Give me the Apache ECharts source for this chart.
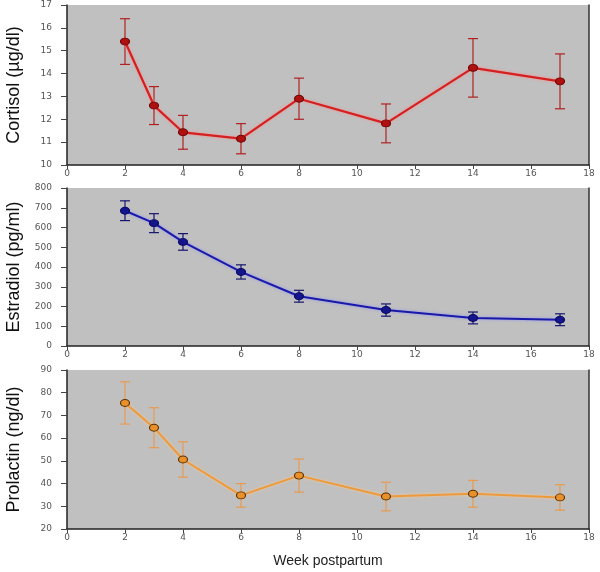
<!DOCTYPE html>
<html><head><meta charset="utf-8">
<script src="https://cdn.jsdelivr.net/npm/echarts@6/dist/echarts.min.js"></script>
<style>html,body{margin:0;padding:0;background:#fff}#c{width:600px;height:572px}</style>
</head><body><div id="c"></div>
<script>
const weeks = [2, 3, 4, 6, 8, 11, 14, 17];
const cortisol = [15.4, 12.6, 11.43, 11.15, 12.9, 11.82, 14.25, 13.66];
const cortisolErr = [1.0, 0.83, 0.74, 0.66, 0.9, 0.85, 1.28, 1.2];
const estradiol = [685, 622, 527, 375, 252, 182, 142, 133];
const estradiolErr = [50, 48, 42, 36, 30, 31, 30, 30];
const prolactin = [75.5, 64.6, 50.6, 34.8, 43.5, 34.3, 35.5, 33.9];
const prolactinErr = [9.3, 8.8, 7.8, 5.2, 7.3, 6.3, 5.9, 5.6];
const yTitles = ['Cortisol (µg/dl)', 'Estradiol (pg/ml)', 'Prolactin (ng/dl)'];
const xTitle = 'Week postpartum';
const yRanges = [[10, 17, 1], [0, 800, 100], [20, 90, 10]];

const panels = [
  {vals: cortisol, err: cortisolErr, line: '#d42020', marker: '#b01010', border: '#6a0808', errc: '#b02020', halo: 'rgba(255,140,140,0.9)', width: 2.2},
  {vals: estradiol, err: estradiolErr, line: '#1a1aa8', marker: '#14148c', border: '#0a0a60', errc: '#15156e', halo: 'rgba(140,140,255,0.9)', width: 2},
  {vals: prolactin, err: prolactinErr, line: '#ec9a3c', marker: '#e8902a', border: '#5a3000', errc: '#e89a50', halo: 'rgba(255,200,140,0.9)', width: 2}
];
const grids = [
  {left: 67, width: 522, top: 5, height: 160},
  {left: 67, width: 522, top: 188, height: 158},
  {left: 67, width: 522, top: 370, height: 159}
];
const tickFont = {fontFamily: 'DejaVu Sans', fontSize: 9, color: '#555'};

const option = {
  animation: false,
  grid: grids.map(g => Object.assign({show: true, backgroundColor: '#c0c0c0', borderWidth: 0, containLabel: false, outerBoundsMode: 'none'}, g)),
  xAxis: [], yAxis: [], series: [],
  graphic: []
};
panels.forEach((p, i) => {
  option.xAxis.push({
    type: 'value', gridIndex: i, min: 0, max: 18, interval: 2,
    axisLine: {show: true, lineStyle: {color: '#222', width: 1.5}},
    axisTick: {show: true, length: 4, lineStyle: {color: '#444'}},
    axisLabel: Object.assign({margin: 4}, tickFont),
    splitLine: {show: false},
    name: i === 2 ? xTitle : '', nameLocation: 'middle', nameGap: 25,
    nameTextStyle: {fontFamily: 'Liberation Sans', fontSize: 14, color: '#222'}
  });
  option.yAxis.push({
    type: 'value', gridIndex: i, min: yRanges[i][0], max: yRanges[i][1], interval: yRanges[i][2],
    axisLine: {show: true, lineStyle: {color: '#222', width: 1.5}},
    axisTick: {show: true, length: 6, lineStyle: {color: '#444'}},
    axisLabel: Object.assign({margin: 15}, tickFont),
    splitLine: {show: false},
    name: yTitles[i], nameLocation: 'middle', nameGap: 44,
    nameTextStyle: {fontFamily: 'Liberation Sans', fontSize: 18, color: '#111'}
  });
  option.yAxis.push({
    type: 'value', gridIndex: i, position: 'right', min: yRanges[i][0], max: yRanges[i][1], interval: yRanges[i][2],
    axisLine: {show: true, lineStyle: {color: '#333', width: 1.5}},
    axisTick: {show: false}, axisLabel: {show: false}, splitLine: {show: false}
  });
  const pts = weeks.map((w, k) => [w, p.vals[k], p.err[k]]);
  option.series.push({
    type: 'custom', xAxisIndex: i, yAxisIndex: i * 2, data: pts, z: 3,
    renderItem: function (params, api) {
      const x = api.value(0), y = api.value(1), e = api.value(2);
      const top = api.coord([x, y + e]);
      const bot = api.coord([x, y - e]);
      const hw = 5;
      const st = {stroke: p.errc, lineWidth: 1.2};
      return {type: 'group', children: [
        {type: 'line', shape: {x1: top[0], y1: top[1], x2: bot[0], y2: bot[1]}, style: st},
        {type: 'line', shape: {x1: top[0] - hw, y1: top[1], x2: top[0] + hw, y2: top[1]}, style: st},
        {type: 'line', shape: {x1: bot[0] - hw, y1: bot[1], x2: bot[0] + hw, y2: bot[1]}, style: st}
      ]};
    }
  });
  option.series.push({
    type: 'line', xAxisIndex: i, yAxisIndex: i * 2, data: pts.map(d => [d[0], d[1]]), z: 4,
    symbol: 'circle', symbolSize: [9, 7],
    lineStyle: {color: p.line, width: p.width, shadowColor: p.halo, shadowBlur: 3},
    itemStyle: {color: p.marker, borderColor: p.border, borderWidth: 1}
  });
});
const chart = echarts.init(document.getElementById('c'), null, {renderer: 'canvas'});
chart.setOption(option);
</script>
</body></html>
